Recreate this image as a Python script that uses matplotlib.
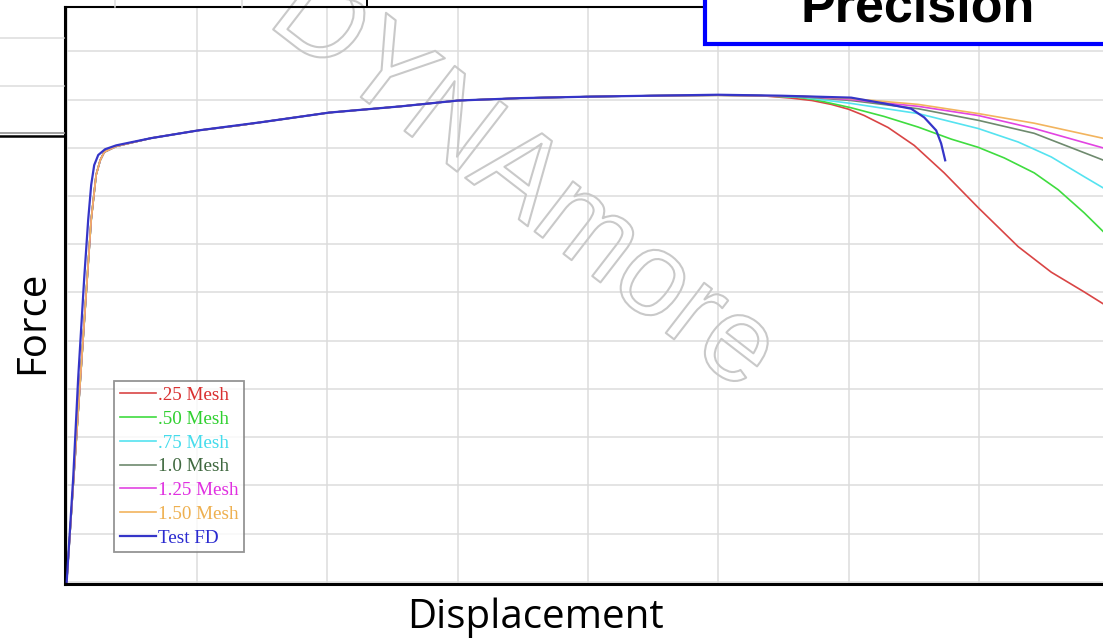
import matplotlib
matplotlib.use("Agg")
import matplotlib.pyplot as plt
from matplotlib.lines import Line2D
from matplotlib.patches import Rectangle
import matplotlib.patheffects as pe

# ---------------- data (displacement, force; arbitrary grid units) ----------------
mesh_elastic_x = [0.0, 0.157, 0.188, 0.226, 0.257, 0.288, 0.380]
mesh_elastic_y = [0.0, 6.28, 7.51, 8.44, 8.74, 8.91, 9.03]
plateau_x = [0.441, 0.648, 1.009, 1.339, 1.493, 2.015, 2.567, 3.004, 3.487, 4.002, 4.486, 5.000, 5.330]
plateau_y = [9.07, 9.20, 9.36, 9.47, 9.53, 9.73, 9.86, 9.98, 10.03, 10.06, 10.08, 10.09, 10.08]

red_tail_x = [5.560, 5.720, 5.867, 6.000, 6.120, 6.304, 6.504, 6.734, 6.995, 7.302, 7.556, 7.809, 8.016]
red_tail_y = [10.03, 9.98, 9.90, 9.80, 9.67, 9.42, 9.05, 8.48, 7.76, 6.95, 6.42, 6.01, 5.66]
green_tail_x = [5.600, 5.737, 6.020, 6.273, 6.534, 6.788, 6.995, 7.195, 7.425, 7.609, 7.809, 8.016]
green_tail_y = [10.05, 10.00, 9.83, 9.65, 9.43, 9.18, 9.01, 8.79, 8.48, 8.13, 7.65, 7.10]
cyan_tail_x = [5.637, 6.020, 6.534, 6.995, 7.302, 7.556, 7.809, 8.016]
cyan_tail_y = [10.05, 9.92, 9.71, 9.40, 9.12, 8.81, 8.40, 8.07]
gray_tail_x = [5.637, 6.020, 6.534, 6.995, 7.425, 8.016]
gray_tail_y = [10.06, 9.98, 9.81, 9.57, 9.30, 8.68]
magenta_tail_x = [5.637, 6.020, 6.534, 6.995, 7.425, 8.016]
magenta_tail_y = [10.07, 10.00, 9.86, 9.67, 9.40, 8.95]
orange_tail_x = [5.637, 6.020, 6.534, 6.995, 7.425, 8.016]
orange_tail_y = [10.07, 10.02, 9.90, 9.71, 9.51, 9.16]

test_x = [0.0, 0.050, 0.088, 0.134, 0.165, 0.188, 0.211, 0.242, 0.295, 0.380, 0.648, 1.009,
          1.493, 2.015, 2.567, 3.004, 3.487, 4.002, 4.486, 5.000, 5.483, 6.020, 6.273, 6.481,
          6.581, 6.673, 6.711, 6.742]
test_y = [0.0, 2.16, 4.22, 6.28, 7.51, 8.23, 8.64, 8.85, 8.97, 9.05, 9.20, 9.36,
          9.53, 9.73, 9.86, 9.98, 10.03, 10.06, 10.08, 10.10, 10.08, 10.04, 9.92, 9.81,
          9.63, 9.36, 9.09, 8.74]

labels = [".25 Mesh", ".50 Mesh", ".75 Mesh", "1.0 Mesh", "1.25 Mesh", "1.50 Mesh", "Test FD"]
colors = ["#d94545", "#3fdc3f", "#55e3f0", "#6e8a6e", "#e244e2", "#f2b45e", "#3535c8"]
text_colors = ["#d93030", "#30d030", "#45dcec", "#3f683f", "#e030e0", "#eeb050", "#2a2ad0"]

tails = [(red_tail_x, red_tail_y), (green_tail_x, green_tail_y), (cyan_tail_x, cyan_tail_y),
         (gray_tail_x, gray_tail_y), (magenta_tail_x, magenta_tail_y), (orange_tail_x, orange_tail_y)]

# ---------------- figure ----------------
W, H = 1103, 643
fig = plt.figure(figsize=(W / 100, H / 100), dpi=100)
fig.patch.set_facecolor("white")

def fx(px):
    return px / W

def fy(py):
    return 1 - py / H

# pixel geometry of the plot frame and grid
left_px, bottom_px, top_px = 65.0, 584.0, 7.0
gx0_px, gy0_px, step_x, step_y = 66.7, 586.3, 130.3, 48.6
x_lo = (left_px - gx0_px) / step_x
x_hi = (1110 - gx0_px) / step_x
y_lo = (gy0_px - bottom_px) / step_y * -1
y_hi = (gy0_px - top_px) / step_y

ax = fig.add_axes([fx(left_px), fy(bottom_px), (1110 - left_px) / W, (bottom_px - top_px) / H])
ax.set_xlim(x_lo, x_hi)
ax.set_ylim(y_lo, y_hi)
ax.set_xticks(range(0, 9))
ax.set_yticks(range(0, 12))
ax.tick_params(length=0, labelbottom=False, labelleft=False)
ax.set_axisbelow(True)
ax.grid(True, color="#dcdcdc", linewidth=1.1)
ax.spines["right"].set_visible(False)
ax.spines["top"].set_linewidth(1.5)
ax.spines["left"].set_linewidth(2.2)
ax.spines["bottom"].set_linewidth(2.2)

# background artifacts outside the plot
for y, c, lw in [(38, "#dddddd", 1.1), (86, "#dddddd", 1.1), (133, "#9a9a9a", 1.3), (135.8, "black", 1.8)]:
    fig.add_artist(Line2D([0, fx(64)], [fy(y), fy(y)], color=c, linewidth=lw, transform=fig.transFigure))
for x, c, lw in [(115, "#dddddd", 1.1), (242, "#dddddd", 1.1), (366.5, "black", 1.4)]:
    fig.add_artist(Line2D([fx(x), fx(x)], [fy(0), fy(7)], color=c, linewidth=lw, transform=fig.transFigure))

# watermark
ax.text(fx(523), fy(184), "DYNAmore", transform=fig.transFigure, rotation=-37.7,
        rotation_mode="anchor", ha="center", va="center", fontsize=86,
        family="Liberation Sans", color="none", zorder=1.5, clip_on=False,
        path_effects=[pe.Stroke(linewidth=1.5, foreground="#c9c9c9")])

# curves
handles = []
for (tx, ty), c, lab in zip(tails, colors[:6], labels[:6]):
    xs = mesh_elastic_x + plateau_x + tx
    ys = mesh_elastic_y + plateau_y + ty
    h, = ax.plot(xs, ys, color=c, linewidth=1.2, label=lab, zorder=2)
    handles.append(h)
h, = ax.plot(test_x, test_y, color=colors[6], linewidth=1.6, label=labels[6], zorder=3)
handles.append(h)

leg = ax.legend(handles=handles, loc="upper left", bbox_to_anchor=(fx(114), fy(381)),
                bbox_transform=fig.transFigure, borderaxespad=0, frameon=True,
                fancybox=False, shadow=False, prop={"family": "Liberation Serif", "size": 13.8},
                handlelength=1.9, handletextpad=0.08, borderpad=0.3, labelspacing=0.33)
leg.get_frame().set_edgecolor("#7a7a7a")
leg.get_frame().set_linewidth(1.3)
for t, c in zip(leg.get_texts(), text_colors):
    t.set_color(c)

# axis labels
fig.text(fx(535.5), fy(628), "Displacement", ha="center", va="baseline",
         fontsize=29, family="Open Sans", color="black")
fig.text(fx(43.5), fy(322.5), "Force", ha="center", va="baseline", rotation=90,
         rotation_mode="anchor", fontsize=29, family="Open Sans", color="black")

# "Precision" box (cut off by the figure edge)
fig.add_artist(Rectangle((fx(705), fy(43.5)), fx(1200) - fx(705), fy(-40) - fy(43.5),
                         transform=fig.transFigure, facecolor="white", edgecolor="#0000ff",
                         linewidth=3.0, zorder=5))
fig.text(fx(917.5), fy(21), "Precision", ha="center", va="baseline", fontsize=37.5,
         family="Liberation Sans", weight="bold", color="black", zorder=6)

fig.savefig("out.png", dpi=100)
